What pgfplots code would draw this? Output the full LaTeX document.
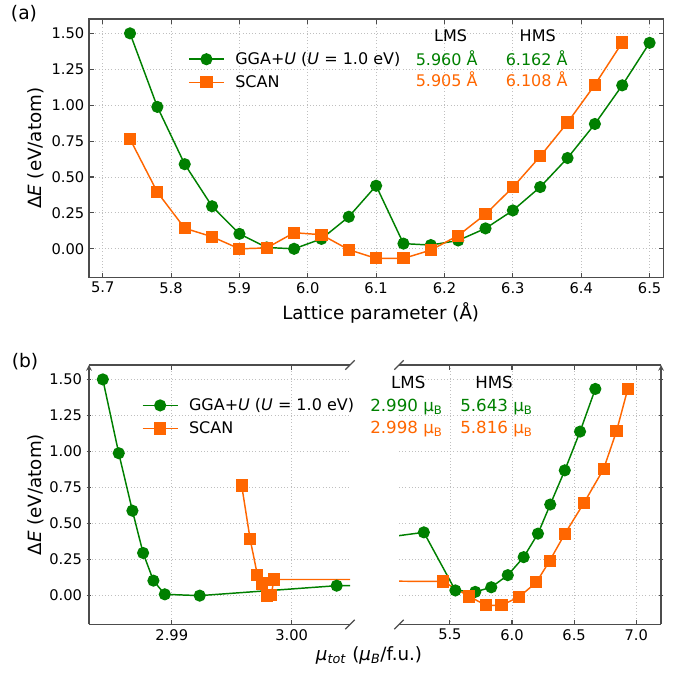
\documentclass[border=0pt]{standalone}
\usepackage{fontspec}
\setmainfont{DejaVu Sans}
\usepackage{pgfplots}
\usepackage{pgfplotstable}
\pgfplotsset{compat=1.18}

\definecolor{ggau}{HTML}{008000}
\definecolor{scan}{HTML}{FF6600}
\definecolor{spine}{gray}{0.3}

% lattice parameter, total moment, energy
\pgfplotstableread{
a    mu       E
5.74 2.98425  1.500
5.78 2.98558  0.988
5.82 2.98672  0.589
5.86 2.98761  0.296
5.90 2.98847  0.104
5.94 2.98942  0.009
5.98 2.99233  0.000
6.02 3.00375  0.069
6.06 3.40     0.223
6.10 5.290    0.439
6.14 5.544    0.036
6.18 5.704    0.026
6.22 5.833    0.058
6.26 5.966    0.142
6.30 6.094    0.267
6.34 6.209    0.430
6.38 6.308    0.632
6.42 6.425    0.869
6.46 6.548    1.138
6.50 6.671    1.434
}\gga

\pgfplotstableread{
a    mu       E
5.74 2.99583  0.764
5.78 2.99653  0.394
5.82 2.99714  0.143
5.86 2.99755  0.084
5.90 2.99792  0.000
5.94 2.99828  0.006
5.98 2.99853  0.112
6.02 5.445    0.098
6.06 5.656   -0.006
6.10 5.790   -0.067
6.14 5.915   -0.067
6.18 6.057   -0.009
6.22 6.196    0.092
6.26 6.303    0.241
6.30 6.425    0.428
6.34 6.580    0.644
6.38 6.738    0.879
6.42 6.842    1.142
6.46 6.933    1.436
}\scn

\pgfplotsset{
  panel/.style={
    scale only axis, anchor=south west,
    tick align=inside,
    axis line style={spine, line width=0.9pt, -},
    major tick style={spine, line width=0.8pt},
    major tick length=3.5pt,
    grid=major,
    major grid style={dotted, gray!50, line width=0.6pt},
    ymin=-0.2, ymax=1.6,
    ytick={0,0.25,0.5,0.75,1,1.25,1.5},
    y tick label style={/pgf/number format/.cd, fixed, fixed zerofill, precision=2},
    /pgf/number format/assume math mode=true,
    tick label style={font=\fontsize{11}{13}\selectfont},
    label style={font=\fontsize{13.7}{16}\selectfont},
    legend cell align=left,
    legend style={draw=none, fill=none, inner sep=0pt, row sep=2.8pt,
      font=\fontsize{12}{14}\selectfont,
      /tikz/every odd column/.append style={column sep=6pt}},
    legend image code/.code={
      \draw[mark repeat=2, mark phase=2] plot coordinates {(0cm,0cm) (0.46cm,0cm) (0.92cm,0cm)};},
  },
  gga/.style={ggau, line width=1.1pt, mark=*, mark size=4pt, mark options={solid, fill=ggau, draw=ggau}},
  scn/.style={scan, line width=1.1pt, mark=square*, mark size=4pt, mark options={solid, fill=scan, draw=scan}},
}

\begin{document}
\begin{tikzpicture}
\path[use as bounding box] (0,0) rectangle (516.75pt,504.75pt);

% (a) energy vs lattice parameter
\begin{axis}[panel,
    at={(66.75pt,296.6pt)}, width=430.7pt, height=193.9pt,
    xmin=5.68, xmax=6.52,
    xtick={5.7,5.8,5.9,6.0,6.1,6.2,6.3,6.4,6.5},
    x tick label style={/pgf/number format/.cd, fixed, fixed zerofill, precision=1},
    xtick pos=both, ytick pos=both,
    xlabel={Lattice parameter (Å)},
    ylabel={Δ\textit{E} (eV/atom)},
    xlabel style={at={(axis description cs:0.508,-0.137)}, anchor=center},
    ylabel style={at={(axis description cs:-0.0923,0.5)}, anchor=center},
    legend style={at={(0.1724,0.80)}, anchor=west},
  ]
  \addplot[gga] table[x=a, y=E] {\gga};
  \addplot[scn] table[x=a, y=E] {\scn};
  \legend{GGA+\textit{U} (\textit{U} = 1.0 eV), SCAN}
\end{axis}

% (b) left part of the broken axis
\begin{axis}[panel,
    at={(66.75pt,36.4pt)}, width=195.75pt, height=194.6pt,
    axis x line=box, axis y line=left,
    xmin=2.9831, xmax=3.00486,
    restrict x to domain*=2.9:3.98,
    xtick={2.99,3.00},
    x tick label style={/pgf/number format/.cd, fixed, fixed zerofill, precision=2},
    xtick pos=both, ytick pos=left,
    ylabel={Δ\textit{E} (eV/atom)},
    ylabel style={at={(axis description cs:-0.203,0.5)}, anchor=center},
    legend style={at={(0.202,0.80)}, anchor=west},
  ]
  \addplot[gga] table[x=mu, y=E] {\gga};
  \addplot[scn] table[x=mu, y=E] {\scn};
  \legend{GGA+\textit{U} (\textit{U} = 1.0 eV), SCAN}
\end{axis}

% (b) right part of the broken axis
\begin{axis}[panel,
    at={(299.25pt,36.4pt)}, width=196.5pt, height=194.6pt,
    axis x line=box, axis y line=right,
    xmin=5.09, xmax=7.2,
    xtick={5.5,6.0,6.5,7.0},
    x tick label style={/pgf/number format/.cd, fixed, fixed zerofill, precision=1},
    xtick pos=both, ytick pos=right,
    yticklabels={},
  ]
  \addplot[gga] table[x=mu, y=E] {\gga};
  \addplot[scn] table[x=mu, y=E] {\scn};
\end{axis}

% break marks
\foreach \x/\y in {262.5/231, 262.5/36.4, 299.25/231, 299.25/36.4}
  \draw[spine, line width=0.9pt] (\x pt,\y pt) ++(-3.5pt,-3.5pt) -- ++(7pt,7pt);

% annotations
\begin{scope}[every node/.style={font=\fontsize{12}{14}\selectfont, anchor=mid, inner sep=0pt}]
  \node[font=\fontsize{14}{16}\selectfont] at (18pt,493pt) {(a)};
  \node at (338pt,476pt) {LMS};
  \node at (403.3pt,476pt) {HMS};
  \node[ggau] at (335pt,458.5pt) {5.960 Å};
  \node[ggau] at (402.5pt,458.5pt) {6.162 Å};
  \node[scan] at (335pt,442.3pt) {5.905 Å};
  \node[scan] at (402.5pt,442.3pt) {6.108 Å};

  \node[font=\fontsize{14}{16}\selectfont] at (18.75pt,232pt) {(b)};
\end{scope}
\begin{scope}[every node/.style={font=\fontsize{12.5}{15}\selectfont, anchor=mid, inner sep=0pt}]
  \node at (306.2pt,216pt) {LMS};
  \node at (370.5pt,216pt) {HMS};
  \node[ggau, anchor=mid west] at (277.5pt,199pt) {2.990 μ\textsubscript{B}};
  \node[ggau, anchor=mid west] at (345pt,199pt) {5.643 μ\textsubscript{B}};
  \node[scan, anchor=mid west] at (277.5pt,182.5pt) {2.998 μ\textsubscript{B}};
  \node[scan, anchor=mid west] at (345pt,182.5pt) {5.816 μ\textsubscript{B}};

  \node[font=\fontsize{13.7}{16}\selectfont] at (276.75pt,12pt) {\textit{μ}\textsubscript{\textit{tot}} (\textit{μ}\textsubscript{\textit{B}}/f.u.)};
\end{scope}
\end{tikzpicture}
\end{document}
